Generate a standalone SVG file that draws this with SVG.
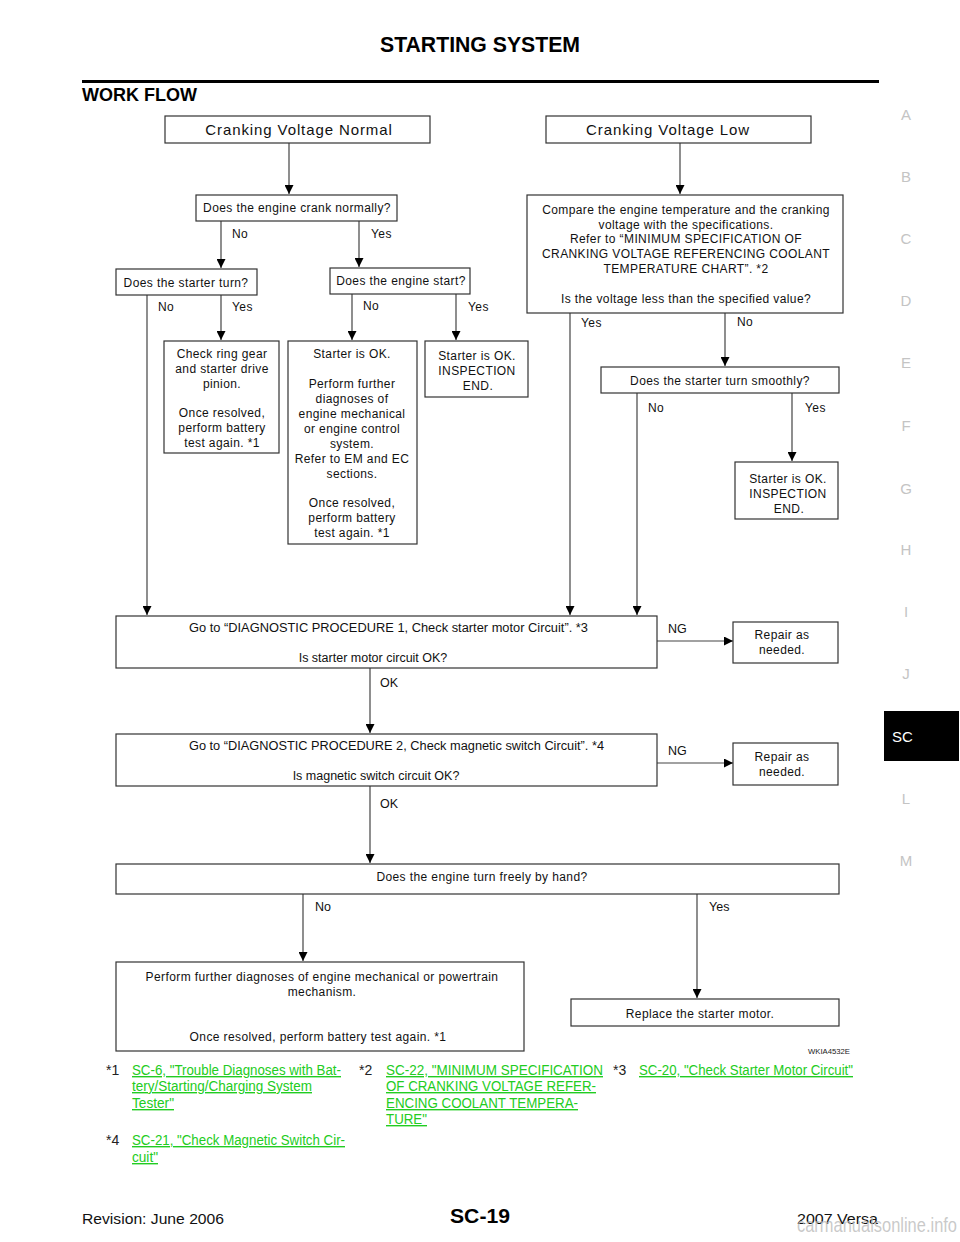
<svg xmlns="http://www.w3.org/2000/svg" width="960" height="1242" viewBox="0 0 960 1242">
<defs>
<marker id="ah" viewBox="0 0 10 10" refX="10" refY="5" markerWidth="9" markerHeight="9" markerUnits="userSpaceOnUse" orient="auto">
<path d="M0,0 L10,5 L0,10 Z" fill="#000"/>
</marker>
<style>
.box{fill:#fff;stroke:#333;stroke-width:1.2}
.t{font-family:"Liberation Sans",Arial,sans-serif;font-size:12px;fill:#111;letter-spacing:0.4px}
.c{text-anchor:middle}
.big{font-size:15px;letter-spacing:0.9px}
.n{font-family:"Liberation Sans",Arial,sans-serif;font-size:12.5px;fill:#111}
.ln{stroke:#444;stroke-width:1.2;fill:none}
.ar{marker-end:url(#ah)}
.side{font-family:"Liberation Sans",Arial,sans-serif;font-size:15px;fill:#c4c4c4;text-anchor:middle}
.fn{font-family:"Liberation Sans",Arial,sans-serif;font-size:14px;fill:#222}
.lk{font-family:"Liberation Sans",Arial,sans-serif;font-size:14px;fill:#22cc22;text-decoration:underline}
</style>
</defs>
<rect width="960" height="1242" fill="#fff"/>

<g id="header">
<text x="380" y="52" font-family="Liberation Sans,Arial,sans-serif" font-size="22" font-weight="bold" fill="#000" textLength="200" lengthAdjust="spacingAndGlyphs">STARTING SYSTEM</text>
<rect x="82" y="80" width="797" height="3" fill="#000"/>
<text x="82" y="101" font-family="Liberation Sans,Arial,sans-serif" font-size="19" font-weight="bold" fill="#000" textLength="115" lengthAdjust="spacingAndGlyphs">WORK FLOW</text>
</g>

<g id="sidebar">
<text class="side" x="906" y="120">A</text>
<text class="side" x="906" y="182">B</text>
<text class="side" x="906" y="244">C</text>
<text class="side" x="906" y="306">D</text>
<text class="side" x="906" y="368">E</text>
<text class="side" x="906" y="431">F</text>
<text class="side" x="906" y="494">G</text>
<text class="side" x="906" y="555">H</text>
<text class="side" x="906" y="617">I</text>
<text class="side" x="906" y="679">J</text>
<rect x="884" y="711" width="75" height="50" fill="#000"/>
<text x="892" y="742" font-family="Liberation Sans,Arial,sans-serif" font-size="15" fill="#fff">SC</text>
<text class="side" x="906" y="804">L</text>
<text class="side" x="906" y="866">M</text>
</g>

<g id="connectors">
<line class="ln ar" x1="289" y1="143" x2="289" y2="194"/>
<line class="ln ar" x1="680" y1="143" x2="680" y2="194"/>
<line class="ln ar" x1="221" y1="221" x2="221" y2="268"/>
<line class="ln ar" x1="359" y1="221" x2="359" y2="267"/>
<line class="ln ar" x1="147" y1="295" x2="147" y2="615"/>
<line class="ln ar" x1="221" y1="295" x2="221" y2="340"/>
<line class="ln ar" x1="352" y1="294" x2="352" y2="340"/>
<line class="ln ar" x1="456" y1="294" x2="456" y2="340"/>
<line class="ln ar" x1="570" y1="313" x2="570" y2="615"/>
<line class="ln ar" x1="725" y1="313" x2="725" y2="366"/>
<line class="ln ar" x1="637" y1="393" x2="637" y2="615"/>
<line class="ln ar" x1="792" y1="393" x2="792" y2="461"/>
<line class="ln ar" x1="657" y1="641" x2="733" y2="641"/>
<line class="ln ar" x1="370" y1="668" x2="370" y2="733"/>
<line class="ln ar" x1="657" y1="763" x2="733" y2="763"/>
<line class="ln ar" x1="370" y1="786" x2="370" y2="863"/>
<line class="ln ar" x1="303" y1="894" x2="303" y2="961"/>
<line class="ln ar" x1="697" y1="894" x2="697" y2="998"/>
<text class="t" x="232" y="238">No</text>
<text class="t" x="371" y="238">Yes</text>
<text class="t" x="158" y="311">No</text>
<text class="t" x="232" y="311">Yes</text>
<text class="t" x="363" y="310">No</text>
<text class="t" x="468" y="311">Yes</text>
<text class="t" x="581" y="327">Yes</text>
<text class="t" x="737" y="326">No</text>
<text class="t" x="648" y="412">No</text>
<text class="t" x="805" y="412">Yes</text>
<text class="n" x="668" y="633">NG</text>
<text class="n" x="380" y="687">OK</text>
<text class="n" x="668" y="755">NG</text>
<text class="n" x="380" y="808">OK</text>
<text class="n" x="315" y="911">No</text>
<text class="n" x="709" y="911">Yes</text>
</g>

<g id="n-cv-normal">
<rect class="box" x="165" y="116" width="265" height="27"/>
<text class="t c big" x="299" y="135">Cranking Voltage Normal</text>
</g>
<g id="n-cv-low">
<rect class="box" x="546" y="116" width="265" height="27"/>
<text class="t c big" x="668" y="135">Cranking Voltage Low</text>
</g>
<g id="n-crank">
<rect class="box" x="196" y="195" width="201" height="26"/>
<text class="t c" x="297" y="212">Does the engine crank normally?</text>
</g>
<g id="n-starter-turn">
<rect class="box" x="116" y="269" width="141" height="26"/>
<text class="t c" x="186" y="287">Does the starter turn?</text>
</g>
<g id="n-engine-start">
<rect class="box" x="330" y="268" width="140" height="26"/>
<text class="t c" x="401" y="285">Does the engine start?</text>
</g>
<g id="n-ring-gear">
<rect class="box" x="164" y="341" width="115" height="112"/>
<text class="t c" x="222" y="358">Check ring gear</text>
<text class="t c" x="222" y="373">and starter drive</text>
<text class="t c" x="222" y="388">pinion.</text>
<text class="t c" x="222" y="417">Once resolved,</text>
<text class="t c" x="222" y="432">perform battery</text>
<text class="t c" x="222" y="447">test again. *1</text>
</g>
<g id="n-further-em">
<rect class="box" x="288" y="341" width="129" height="203"/>
<text class="t c" x="352" y="358">Starter is OK.</text>
<text class="t c" x="352" y="388">Perform further</text>
<text class="t c" x="352" y="403">diagnoses of</text>
<text class="t c" x="352" y="418">engine mechanical</text>
<text class="t c" x="352" y="433">or engine control</text>
<text class="t c" x="352" y="448">system.</text>
<text class="t c" x="352" y="463">Refer to EM and EC</text>
<text class="t c" x="352" y="478">sections.</text>
<text class="t c" x="352" y="507">Once resolved,</text>
<text class="t c" x="352" y="522">perform battery</text>
<text class="t c" x="352" y="537">test again. *1</text>
</g>
<g id="n-ok-end1">
<rect class="box" x="425" y="341" width="103" height="56"/>
<text class="t c" x="477" y="360">Starter is OK.</text>
<text class="t c" x="477" y="375">INSPECTION</text>
<text class="t c" x="478" y="390">END.</text>
</g>
<g id="n-compare">
<rect class="box" x="527" y="195" width="316" height="118"/>
<text class="t c" x="686" y="214">Compare the engine temperature and the cranking</text>
<text class="t c" x="686" y="229">voltage with the specifications.</text>
<text class="t c" x="686" y="243">Refer to “MINIMUM SPECIFICATION OF</text>
<text class="t c" x="686" y="258">CRANKING VOLTAGE REFERENCING COOLANT</text>
<text class="t c" x="686" y="273">TEMPERATURE CHART”. *2</text>
<text class="t c" x="686" y="303">Is the voltage less than the specified value?</text>
</g>
<g id="n-smooth">
<rect class="box" x="601" y="367" width="238" height="26"/>
<text class="t c" x="720" y="385">Does the starter turn smoothly?</text>
</g>
<g id="n-ok-end2">
<rect class="box" x="735" y="462" width="103" height="57"/>
<text class="t c" x="788" y="483">Starter is OK.</text>
<text class="t c" x="788" y="498">INSPECTION</text>
<text class="t c" x="789" y="513">END.</text>
</g>
<g id="n-diag1">
<rect class="box" x="116" y="616" width="541" height="52"/>
<text class="n" x="189" y="632" textLength="399" lengthAdjust="spacingAndGlyphs">Go to “DIAGNOSTIC PROCEDURE 1, Check starter motor Circuit”. *3</text>
<text class="n c" x="373" y="662">Is starter motor circuit OK?</text>
</g>
<g id="n-repair1">
<rect class="box" x="733" y="622" width="105" height="41"/>
<text class="t c" x="782" y="639">Repair as</text>
<text class="t c" x="782" y="654">needed.</text>
</g>
<g id="n-diag2">
<rect class="box" x="116" y="734" width="541" height="52"/>
<text class="n" x="189" y="750" textLength="415" lengthAdjust="spacingAndGlyphs">Go to “DIAGNOSTIC PROCEDURE 2, Check magnetic switch Circuit”. *4</text>
<text class="n c" x="376" y="780">Is magnetic switch circuit OK?</text>
</g>
<g id="n-repair2">
<rect class="box" x="733" y="743" width="105" height="42"/>
<text class="t c" x="782" y="761">Repair as</text>
<text class="t c" x="782" y="776">needed.</text>
</g>
<g id="n-hand">
<rect class="box" x="116" y="864" width="723" height="30"/>
<text class="t c" x="482" y="881">Does the engine turn freely by hand?</text>
</g>
<g id="n-powertrain">
<rect class="box" x="116" y="962" width="408" height="89"/>
<text class="t c" x="322" y="981">Perform further diagnoses of engine mechanical or powertrain</text>
<text class="t c" x="322" y="996">mechanism.</text>
<text class="t c" x="318" y="1041">Once resolved, perform battery test again. *1</text>
</g>
<g id="n-replace">
<rect class="box" x="571" y="999" width="268" height="27"/>
<text class="t c" x="700" y="1018">Replace the starter motor.</text>
</g>
<text x="808" y="1054" font-family="Liberation Sans,Arial,sans-serif" font-size="7.5" fill="#222" textLength="42" lengthAdjust="spacingAndGlyphs">WKIA4532E</text>

<g id="footnotes">
<text class="fn" x="106" y="1075">*1</text>
<text class="lk" x="132" y="1075" textLength="209" lengthAdjust="spacingAndGlyphs">SC-6, "Trouble Diagnoses with Bat-</text>
<text class="lk" x="132" y="1091" textLength="180" lengthAdjust="spacingAndGlyphs">tery/Starting/Charging System </text>
<text class="lk" x="132" y="1108" textLength="42" lengthAdjust="spacingAndGlyphs">Tester"</text>
<text class="fn" x="359" y="1075">*2</text>
<text class="lk" x="386" y="1075" textLength="217" lengthAdjust="spacingAndGlyphs">SC-22, "MINIMUM SPECIFICATION </text>
<text class="lk" x="386" y="1091" textLength="210" lengthAdjust="spacingAndGlyphs">OF CRANKING VOLTAGE REFER-</text>
<text class="lk" x="386" y="1108" textLength="192" lengthAdjust="spacingAndGlyphs">ENCING COOLANT TEMPERA-</text>
<text class="lk" x="386" y="1124" textLength="41" lengthAdjust="spacingAndGlyphs">TURE"</text>
<text class="fn" x="613" y="1075">*3</text>
<text class="lk" x="639" y="1075" textLength="214" lengthAdjust="spacingAndGlyphs">SC-20, "Check Starter Motor Circuit"</text>
<text class="fn" x="106" y="1145">*4</text>
<text class="lk" x="132" y="1145" textLength="213" lengthAdjust="spacingAndGlyphs">SC-21, "Check Magnetic Switch Cir-</text>
<text class="lk" x="132" y="1162" textLength="26" lengthAdjust="spacingAndGlyphs">cuit"</text>
</g>

<g id="footer">
<text x="82" y="1224" font-family="Liberation Sans,Arial,sans-serif" font-size="15" fill="#111" textLength="142" lengthAdjust="spacingAndGlyphs">Revision: June 2006</text>
<text x="450" y="1223" font-family="Liberation Sans,Arial,sans-serif" font-size="21" font-weight="bold" fill="#000" textLength="60" lengthAdjust="spacingAndGlyphs">SC-19</text>
<text x="797" y="1224" font-family="Liberation Sans,Arial,sans-serif" font-size="15" fill="#111" textLength="81" lengthAdjust="spacingAndGlyphs">2007 Versa</text>
<text x="797" y="1232" font-family="Liberation Sans,Arial,sans-serif" font-size="21" fill="#bbb" fill-opacity="0.8" textLength="160" lengthAdjust="spacingAndGlyphs">carmanualsonline.info</text>
</g>
</svg>
